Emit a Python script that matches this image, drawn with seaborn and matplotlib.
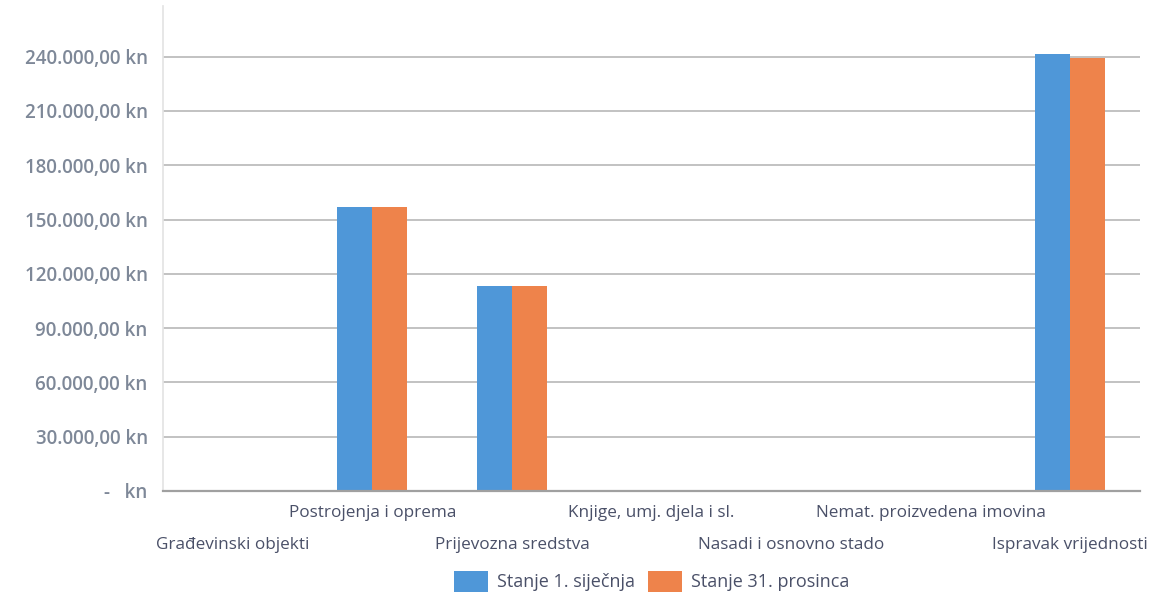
import matplotlib
matplotlib.use("Agg")
import matplotlib.pyplot as plt
import seaborn as sns
import pandas as pd
from matplotlib.ticker import FuncFormatter

categories = ["Građevinski objekti", "Postrojenja i oprema", "Prijevozna sredstva",
              "Knjige, umj. djela i sl.", "Nasadi i osnovno stado",
              "Nemat. proizvedena imovina", "Ispravak vrijednosti"]
series_names = ["Stanje 1. siječnja", "Stanje 31. prosinca"]
stanje_1_sijecnja = [0, 157000, 113000, 0, 0, 0, 241500]
stanje_31_prosinca = [0, 157000, 113000, 0, 0, 0, 239500]
y_ticks = [0, 30000, 60000, 90000, 120000, 150000, 180000, 210000, 240000]

df = pd.DataFrame({
    "Kategorija": categories * 2,
    "Serija": [series_names[0]] * len(categories) + [series_names[1]] * len(categories),
    "Vrijednost": stanje_1_sijecnja + stanje_31_prosinca,
})

sns.set_theme(style="white")
plt.rcParams["font.family"] = ["Open Sans", "DejaVu Sans"]

fig = plt.figure(figsize=(11.51, 5.98), dpi=100)
ax = fig.add_axes([0.1416, 0.179, 0.8489, 0.811])

palette = {series_names[0]: "#4f97d8", series_names[1]: "#ee834b"}
sns.barplot(data=df, x="Kategorija", y="Vrijednost", hue="Serija", order=categories,
            hue_order=series_names, palette=palette, width=0.5, gap=0, ax=ax,
            saturation=1, linewidth=0, legend=True)

ax.set_ylim(0, 268000)
ax.set_xlim(-0.5, len(categories) - 0.5)
ax.set_yticks(y_ticks)
ax.yaxis.grid(True, color="#bdbdbd", linewidth=1.3)
ax.set_axisbelow(True)

def fmt(v, pos):
    if v == 0:
        return "-   kn"
    s = f"{v:,.2f}".replace(",", "X").replace(".", ",").replace("X", ".")
    return s + " kn"

ax.yaxis.set_major_formatter(FuncFormatter(fmt))
ax.tick_params(axis="y", length=0, pad=11, labelsize=13.5, labelcolor="#7e8898")
for lab in ax.get_yticklabels():
    lab.set_fontweight("semibold")

ax.set_xticks(range(len(categories)))
ax.set_xticklabels([])
ax.tick_params(axis="x", length=0)
for i, c in enumerate(categories):
    yoff = -0.046 if i % 2 == 1 else -0.112
    ax.text(i, yoff, c, transform=ax.get_xaxis_transform(), ha="center", va="center",
            fontsize=12.3, color="#4a5068")

ax.set_xlabel("")
ax.set_ylabel("")
for s in ["top", "right"]:
    ax.spines[s].set_visible(False)
ax.spines["left"].set_color("#e4e4e4")
ax.spines["bottom"].set_color("#a0a0a0")
ax.spines["bottom"].set_linewidth(1.6)

leg = ax.legend(loc="center", bbox_to_anchor=(0.5, -0.186), ncol=2, frameon=False,
                fontsize=13, handlelength=1.9, handleheight=1.4, columnspacing=0.7,
                handletextpad=0.5)
for t in leg.get_texts():
    t.set_color("#4a5068")

fig.savefig("out.png", dpi=100)
